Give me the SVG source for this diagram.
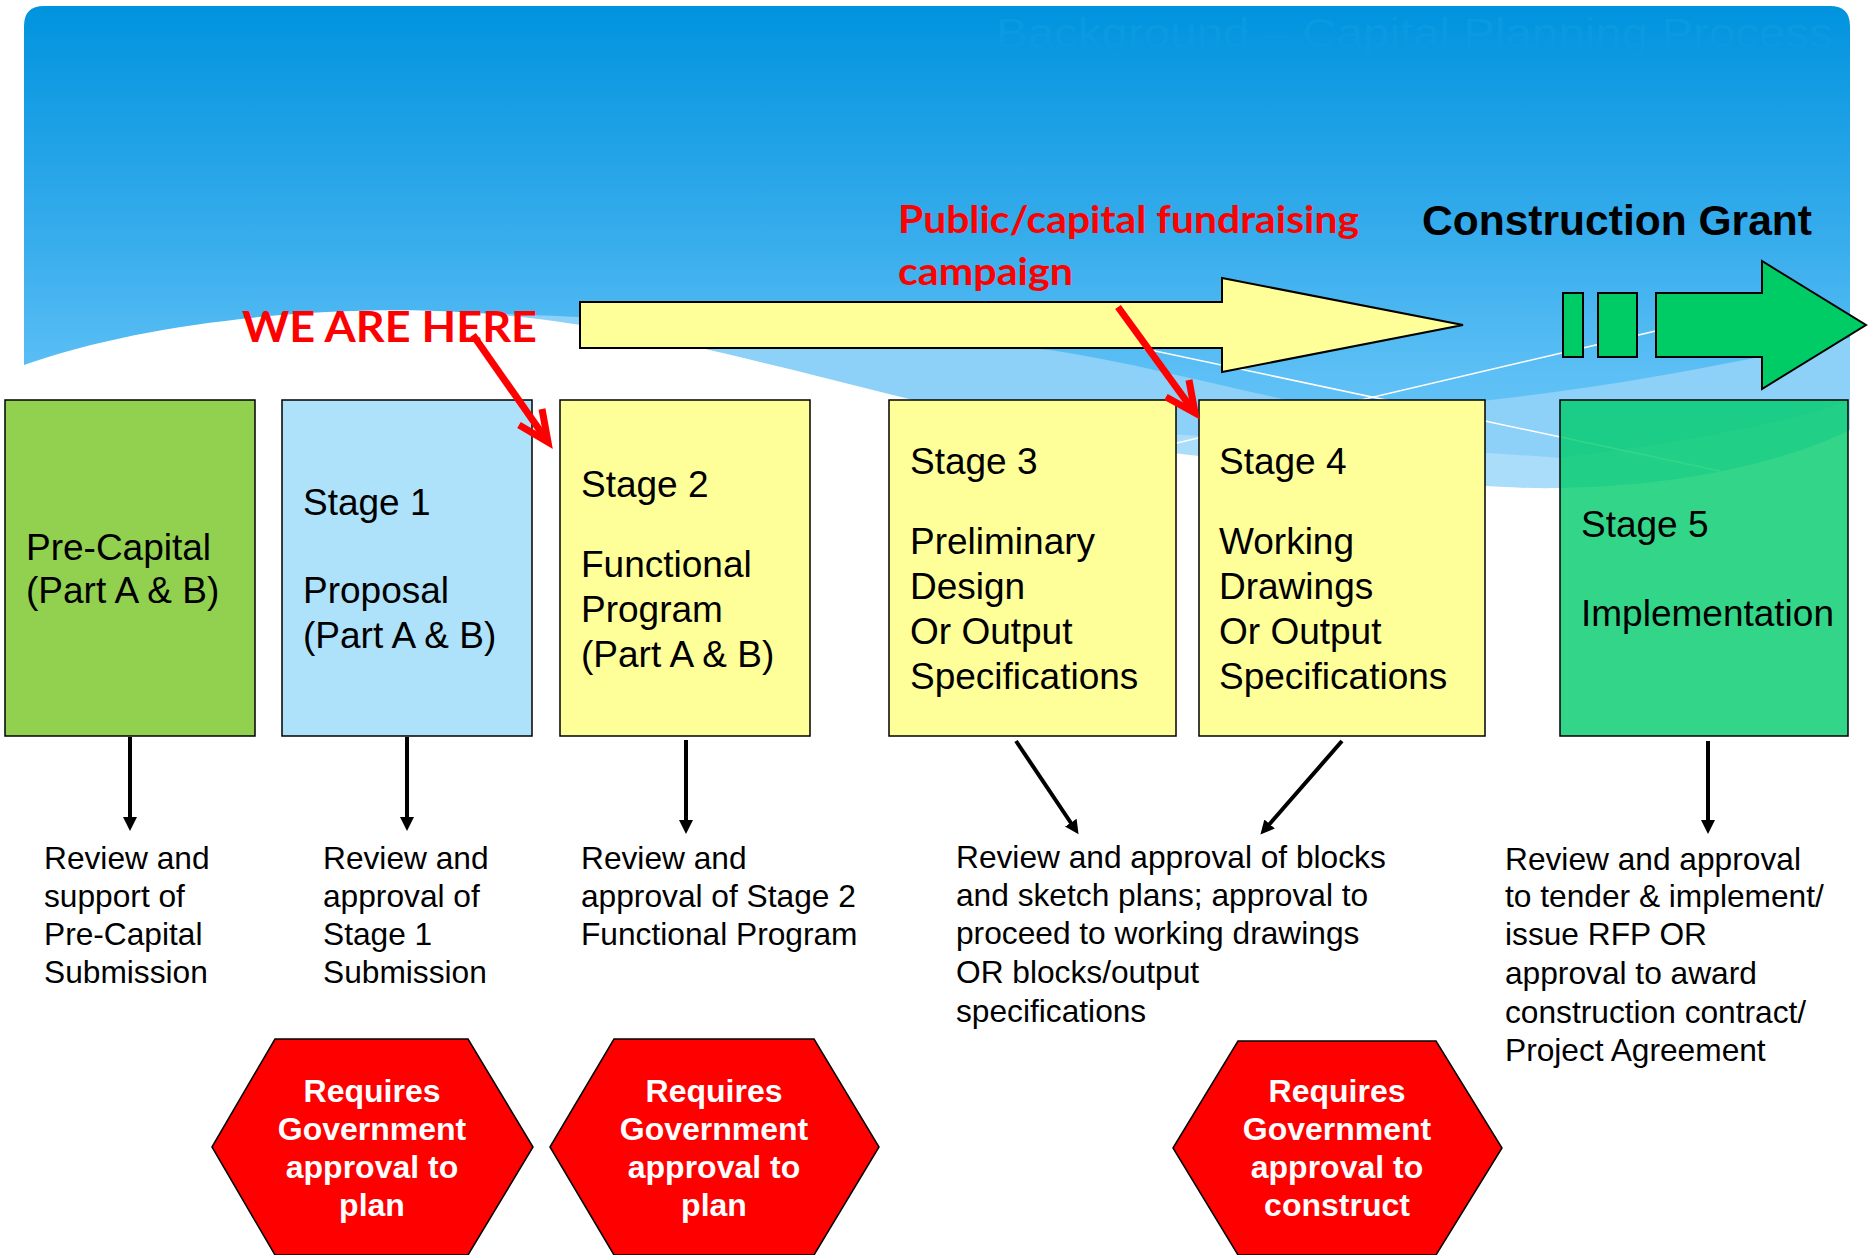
<svg xmlns="http://www.w3.org/2000/svg" width="1869" height="1255" viewBox="0 0 1869 1255">
  <defs>
    <linearGradient id="sky" x1="0" y1="6" x2="0" y2="495" gradientUnits="userSpaceOnUse">
      <stop offset="0" stop-color="#0093de"/>
      <stop offset="0.5" stop-color="#3aaeed"/>
      <stop offset="0.75" stop-color="#5cbff5"/>
      <stop offset="1" stop-color="#6ac7f7"/>
    </linearGradient>
    <marker id="ah" markerUnits="userSpaceOnUse" markerWidth="16" markerHeight="16" refX="4" refY="7" orient="auto">
      <path d="M0,0 L14,7 L0,14 Z" fill="#000"/>
    </marker>
    <style>
      .box { stroke: #000; stroke-width: 1.5; }
      .bt { font-family: "Liberation Sans", Arial, sans-serif; font-size: 37px; fill: #000; }
      .lt { font-family: "Liberation Sans", Arial, sans-serif; font-size: 31.7px; fill: #000; }
      .hex { fill: #ff0000; stroke: #000; stroke-width: 1.5; }
      .ht { font-family: "Liberation Sans", Arial, sans-serif; font-size: 32px; font-weight: bold; fill: #fff; text-anchor: middle; }
      .conn { stroke: #000; stroke-width: 4; fill: none; marker-end: url(#ah); }
      .red { stroke: #ff0000; stroke-width: 7; fill: none; stroke-linejoin: miter; }
      .redt { font-family: Lato, "Open Sans", sans-serif; font-weight: bold; fill: #ff0000; }
    </style>
  </defs>

  <g id="background">
    <path d="M24,26 Q24,6 44,6 L1830,6 Q1850,6 1850,26 L1850,495 L24,495 Z" fill="url(#sky)"/>
    <path d="M440,312 C600,315 900,335 1050,350 C1150,365 1250,395 1350,412 C1550,400 1700,370 1850,338 L1850,495 L440,495 Z" fill="#8dd0f8"/>
    <path d="M1000,420 C1200,440 1400,445 1560,458 C1700,440 1800,420 1850,400 L1850,495 L1000,495 Z" fill="#a9ddfa"/>
    <path d="M0,380 L24,365 C150,320 330,305 460,312 C560,318 650,335 760,362 C900,395 1050,440 1190,455 C1350,472 1470,490 1560,488 C1700,486 1800,455 1850,430 L1869,430 L1869,1255 L0,1255 Z" fill="#ffffff"/>
    <line x1="1000" y1="318" x2="1720" y2="471" stroke="#ffffff" stroke-width="1.5"/>
    <line x1="1100" y1="461" x2="1660" y2="330" stroke="#ffffff" stroke-width="1.5"/>
    <text x="996" y="47" font-family="Liberation Sans, Arial, sans-serif" font-size="40" fill="#0a9ae2" textLength="837" lengthAdjust="spacingAndGlyphs">Background – Capital Planning Process</text>
  </g>

  <g id="fundraising-arrow">
    <path d="M580,302 L1222,302 L1222,278 L1463,325 L1222,372 L1222,348 L580,348 Z" fill="#ffff99" stroke="#000" stroke-width="2"/>
    <text class="redt" font-size="38" x="898" y="233" textLength="461" lengthAdjust="spacingAndGlyphs">Public/capital fundraising</text>
    <text class="redt" font-size="38" x="898" y="285" textLength="175" lengthAdjust="spacingAndGlyphs">campaign</text>
  </g>

  <g id="construction-grant">
    <rect x="1563" y="293" width="20" height="64" fill="#00cc66" stroke="#000" stroke-width="2"/>
    <rect x="1598" y="293" width="39" height="64" fill="#00cc66" stroke="#000" stroke-width="2"/>
    <path d="M1656,293 L1762,293 L1762,261 L1866,325 L1762,389 L1762,357 L1656,357 Z" fill="#00cc66" stroke="#000" stroke-width="2"/>
    <text x="1422" y="235" font-family="Liberation Sans, Arial, sans-serif" font-weight="bold" font-size="42.5" fill="#000" textLength="390" lengthAdjust="spacingAndGlyphs">Construction Grant</text>
  </g>

  <g id="pre-capital">
    <rect class="box" x="5" y="400" width="250" height="336" fill="#92d050"/>
    <text class="bt" x="26" y="560">Pre-Capital</text>
    <text class="bt" x="26" y="603">(Part A &amp; B)</text>
  </g>

  <g id="stage1">
    <rect class="box" x="282" y="400" width="250" height="336" fill="#aee2fb"/>
    <text class="bt" x="303" y="515">Stage 1</text>
    <text class="bt" x="303" y="603">Proposal</text>
    <text class="bt" x="303" y="648">(Part A &amp; B)</text>
  </g>

  <g id="stage2">
    <rect class="box" x="560" y="400" width="250" height="336" fill="#ffff99"/>
    <text class="bt" x="581" y="497">Stage 2</text>
    <text class="bt" x="581" y="577">Functional</text>
    <text class="bt" x="581" y="622">Program</text>
    <text class="bt" x="581" y="667">(Part A &amp; B)</text>
  </g>

  <g id="stage3">
    <rect class="box" x="889" y="400" width="287" height="336" fill="#ffff99"/>
    <text class="bt" x="910" y="474">Stage 3</text>
    <text class="bt" x="910" y="554">Preliminary</text>
    <text class="bt" x="910" y="599">Design</text>
    <text class="bt" x="910" y="644">Or Output</text>
    <text class="bt" x="910" y="689">Specifications</text>
  </g>

  <g id="stage4">
    <rect class="box" x="1199" y="400" width="286" height="336" fill="#ffff99"/>
    <text class="bt" x="1219" y="474">Stage 4</text>
    <text class="bt" x="1219" y="554">Working</text>
    <text class="bt" x="1219" y="599">Drawings</text>
    <text class="bt" x="1219" y="644">Or Output</text>
    <text class="bt" x="1219" y="689">Specifications</text>
  </g>

  <g id="stage5">
    <rect x="1560" y="400" width="288" height="336" fill="#00cc6a" fill-opacity="0.8" stroke="#000" stroke-width="1.5"/>
    <text class="bt" x="1581" y="537">Stage 5</text>
    <text class="bt" x="1581" y="626">Implementation</text>
  </g>

  <g id="we-are-here">
    <text class="redt" font-size="42" x="242" y="342" textLength="295" lengthAdjust="spacingAndGlyphs">WE ARE HERE</text>
    <path class="red" d="M473,335 L548,442"/>
    <path class="red" d="M542,409 L548,442 L519,425"/>
  </g>

  <g id="fundraising-pointer">
    <path class="red" d="M1118,307 L1195,413"/>
    <path class="red" d="M1189,380 L1195,413 L1166,397"/>
  </g>

  <g id="connectors">
    <line class="conn" x1="130" y1="737" x2="130" y2="821"/>
    <line class="conn" x1="407" y1="737" x2="407" y2="821"/>
    <line class="conn" x1="686" y1="740" x2="686" y2="824"/>
    <line class="conn" x1="1016" y1="741" x2="1073" y2="826"/>
    <line class="conn" x1="1342" y1="741" x2="1267" y2="827"/>
    <line class="conn" x1="1708" y1="741" x2="1708" y2="824"/>
  </g>

  <g id="review-precapital">
    <text class="lt" x="44" y="869">Review and</text>
    <text class="lt" x="44" y="907">support of</text>
    <text class="lt" x="44" y="945">Pre-Capital</text>
    <text class="lt" x="44" y="983">Submission</text>
  </g>
  <g id="review-stage1">
    <text class="lt" x="323" y="869">Review and</text>
    <text class="lt" x="323" y="907">approval of</text>
    <text class="lt" x="323" y="945">Stage 1</text>
    <text class="lt" x="323" y="983">Submission</text>
  </g>
  <g id="review-stage2">
    <text class="lt" x="581" y="869">Review and</text>
    <text class="lt" x="581" y="907">approval of Stage 2</text>
    <text class="lt" x="581" y="945">Functional Program</text>
  </g>
  <g id="review-stage34">
    <text class="lt" x="956" y="868">Review and approval of blocks</text>
    <text class="lt" x="956" y="906">and sketch plans; approval to</text>
    <text class="lt" x="956" y="944">proceed to working drawings</text>
    <text class="lt" x="956" y="983">OR blocks/output</text>
    <text class="lt" x="956" y="1022">specifications</text>
  </g>
  <g id="review-stage5">
    <text class="lt" x="1505" y="870">Review and approval</text>
    <text class="lt" x="1505" y="907">to tender &amp; implement/</text>
    <text class="lt" x="1505" y="945">issue RFP OR</text>
    <text class="lt" x="1505" y="984">approval to award</text>
    <text class="lt" x="1505" y="1023">construction contract/</text>
    <text class="lt" x="1505" y="1061">Project Agreement</text>
  </g>

  <g id="gov-plan-1">
    <polygon class="hex" points="212,1147 275,1039 468,1039 533,1147 468,1255 275,1255"/>
    <text class="ht" x="372" y="1102">Requires</text>
    <text class="ht" x="372" y="1140">Government</text>
    <text class="ht" x="372" y="1178">approval to</text>
    <text class="ht" x="372" y="1216">plan</text>
  </g>
  <g id="gov-plan-2">
    <polygon class="hex" points="550,1147 614,1039 814,1039 879,1147 814,1255 614,1255"/>
    <text class="ht" x="714" y="1102">Requires</text>
    <text class="ht" x="714" y="1140">Government</text>
    <text class="ht" x="714" y="1178">approval to</text>
    <text class="ht" x="714" y="1216">plan</text>
  </g>
  <g id="gov-construct">
    <polygon class="hex" points="1173,1148 1238,1041 1436,1041 1502,1148 1436,1255 1238,1255"/>
    <text class="ht" x="1337" y="1102">Requires</text>
    <text class="ht" x="1337" y="1140">Government</text>
    <text class="ht" x="1337" y="1178">approval to</text>
    <text class="ht" x="1337" y="1216">construct</text>
  </g>
</svg>
